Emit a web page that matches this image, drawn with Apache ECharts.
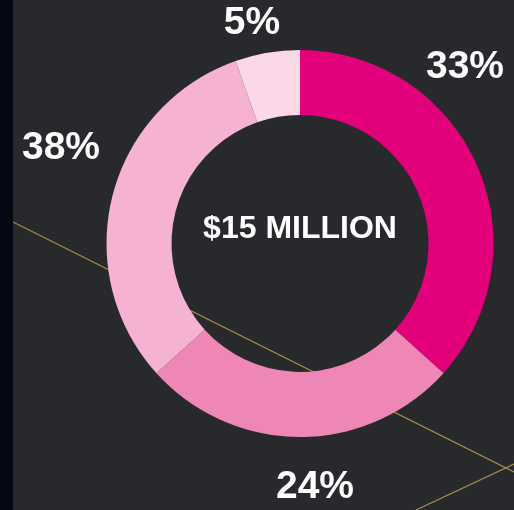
<!DOCTYPE html>
<html lang="en">

<head>
  <meta charset="UTF-8">
  <title>$15 MILLION</title>
  <script src="https://cdn.jsdelivr.net/npm/echarts@6/dist/echarts.min.js"></script>
  <style>
    html, body { margin: 0; padding: 0; background: #28292d; }
    #donut_show { width: 514px; height: 510px; }
  </style>
</head>

<body>
  <div id="donut_show"></div>

  <script>
    // slice sizes as drawn (share of the ring, clockwise from 12 o'clock)
    var aShare = [36.7, 26.6, 31.3, 5.4];
    // printed labels
    var aLabel = ['33%', '24%', '38%', '5%'];
    var aColor = ['#e3007b', '#ee87b6', '#f5b2d3', '#fad8e8'];
    // where each printed label sits
    var aLabelPos = [[465, 67], [315, 487], [61, 148], [252, 23]];

    var oDonut = echarts.init(document.getElementById('donut_show'));
    var oDonutopt = {
      backgroundColor: '#28292d',
      animation: false,
      graphic: [
        { type: 'rect', shape: { x: 0, y: 0, width: 13, height: 510 }, style: { fill: '#050713' } },
        { type: 'line', shape: { x1: 13, y1: 222, x2: 514, y2: 472 }, style: { stroke: '#a68f48', lineWidth: 1.2 } },
        { type: 'line', shape: { x1: 416, y1: 510, x2: 514, y2: 464 }, style: { stroke: '#a68f48', lineWidth: 1.2 } },
        {
          type: 'text', x: 300, y: 229, z: 10,
          style: {
            text: '$15 MILLION', fill: '#ffffff', align: 'center', verticalAlign: 'middle',
            font: 'bold 32px "Liberation Sans", Arial, sans-serif'
          }
        }
      ],
      series: [
        {
          type: 'pie',
          center: [300, 243.5],
          radius: [128.5, 193.5],
          startAngle: 90,
          clockwise: true,
          silent: true,
          avoidLabelOverlap: false,
          label: {
            show: true,
            overflow: 'none',
            color: '#ffffff',
            fontSize: 39,
            fontWeight: 'bold',
            fontFamily: '"Liberation Sans", Arial, sans-serif',
            formatter: function (p) { return aLabel[p.dataIndex]; }
          },
          labelLine: { show: false },
          labelLayout: function (p) {
            return {
              x: aLabelPos[p.dataIndex][0], y: aLabelPos[p.dataIndex][1],
              align: 'center', verticalAlign: 'middle', hideOverlap: false
            };
          },
          data: aShare.map(function (v, i) {
            return { value: v, name: aLabel[i], itemStyle: { color: aColor[i] } };
          })
        }
      ]
    };
    oDonut.setOption(oDonutopt);
  </script>
</body>

</html>
